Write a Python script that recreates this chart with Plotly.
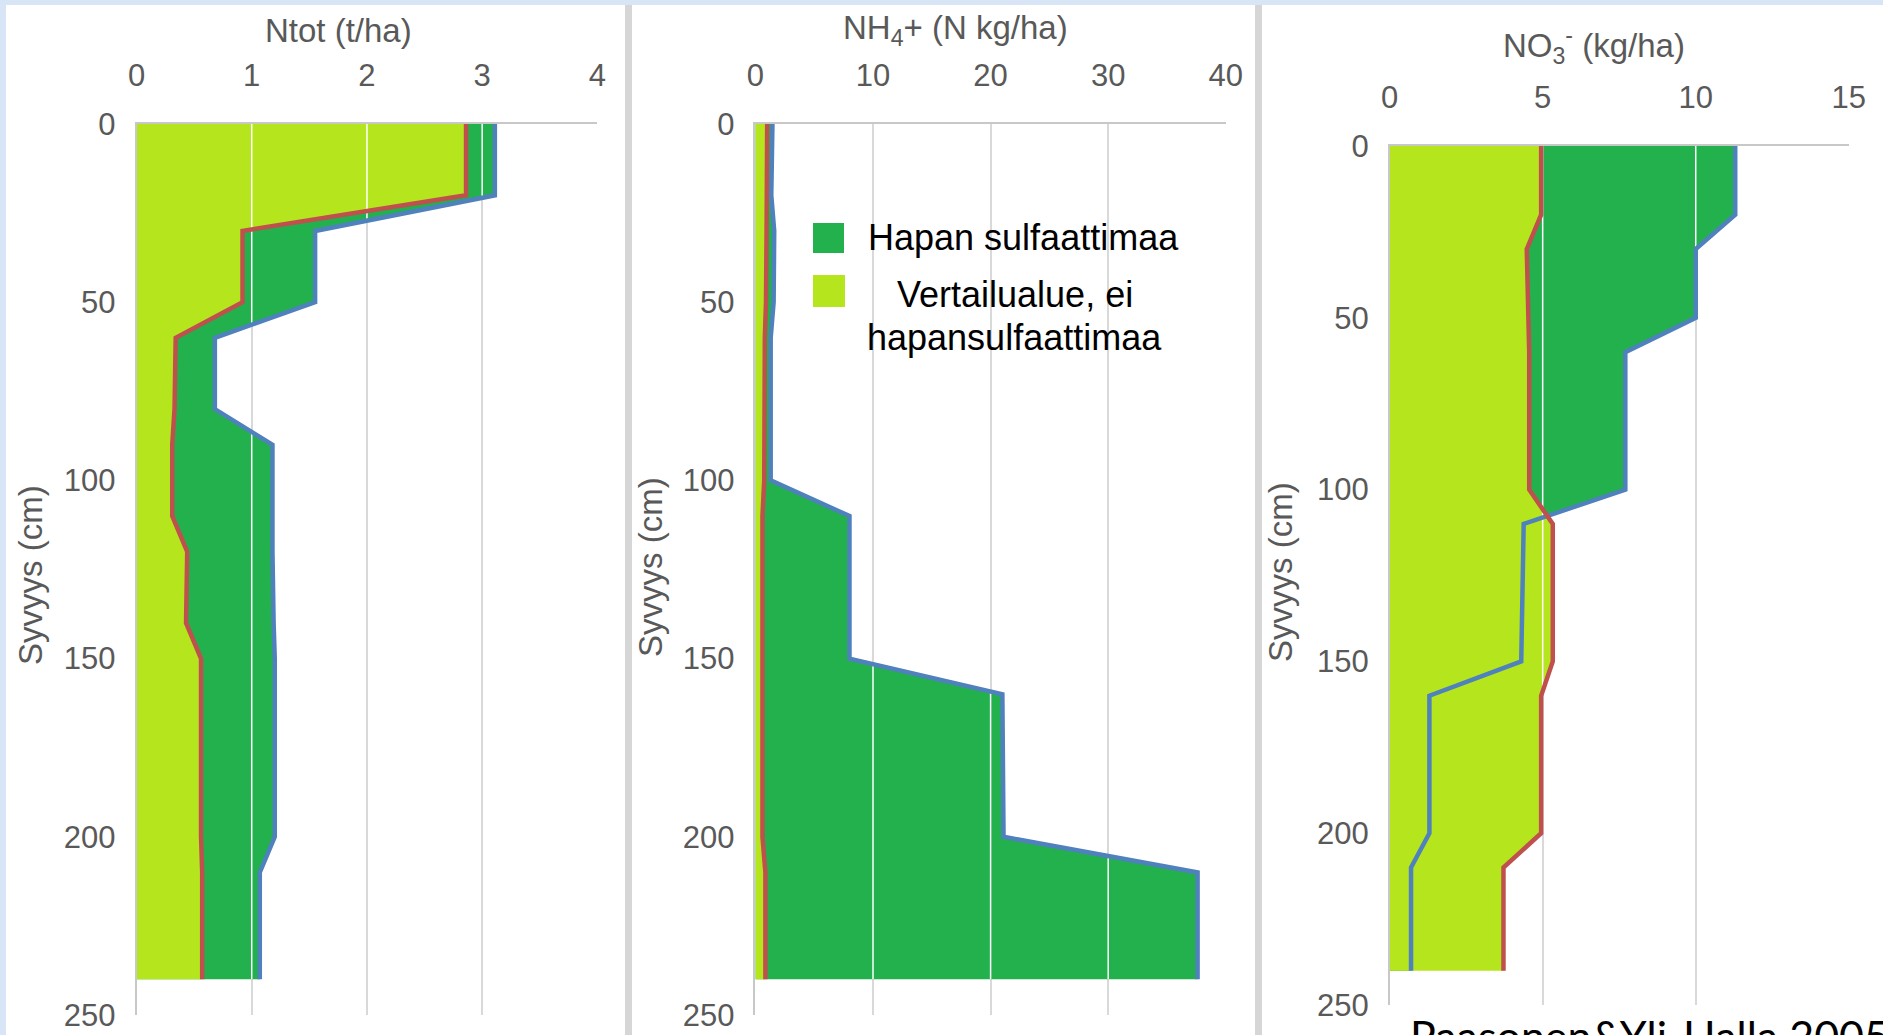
import numpy as np
import plotly.graph_objects as go

W, H = 1883, 1035

# ---- data -------------------------------------------------------------
depth_ntot = [0, 20, 30, 50, 60, 80, 90, 110, 120, 140, 150, 200, 210, 240]
ntot_hapan = [3.11, 3.11, 1.55, 1.55, 0.68, 0.68, 1.18, 1.18, 1.18, 1.19, 1.20, 1.20, 1.07, 1.07]
ntot_vert = [2.86, 2.86, 0.92, 0.92, 0.34, 0.33, 0.31, 0.31, 0.44, 0.43, 0.56, 0.56, 0.57, 0.57]

depth_min = [0, 20, 30, 50, 60, 100, 110, 150, 160, 200, 210, 240]
nh4_hapan = [1.45, 1.35, 1.60, 1.55, 1.30, 1.30, 8.0, 8.0, 21.0, 21.1, 37.6, 37.6]
nh4_vert = [1.00, 1.00, 0.95, 0.90, 0.80, 0.75, 0.60, 0.60, 0.60, 0.60, 0.85, 0.85]
no3_hapan = [11.29, 11.29, 10.0, 10.0, 7.70, 7.70, 4.38, 4.30, 1.30, 1.30, 0.70, 0.70]
no3_vert = [4.95, 4.95, 4.48, 4.52, 4.56, 4.56, 5.33, 5.33, 4.95, 4.95, 3.72, 3.72]

ntot_ticks = [0, 1, 2, 3, 4]
nh4_ticks = [0, 10, 20, 30, 40]
no3_ticks = [0, 5, 10, 15]
depth_ticks = [0, 50, 100, 150, 200, 250]

title_ntot = "Ntot (t/ha)"
title_nh4 = "NH<sub>4</sub>+ (N kg/ha)"
title_no3 = "NO<sub>3</sub><sup>-</sup> (kg/ha)"
depth_title = "Syvyys (cm)"
name_hapan = "Hapan sulfaattimaa"
name_vert = ["Vertailualue, ei", "hapansulfaattimaa"]
source_text = "Paasonen&Yli-Halla 2005"

# ---- styling ----------------------------------------------------------
DARK_GREEN = "#22b14c"
LIGHT_GREEN = "#b5e61d"
RED = "#c0504d"
BLUE = "#4f81bd"
GRID = "#d9d9d9"
AXLINE = "#c8c8c8"
TXT = "#595959"
FONT = "Liberation Sans"


def px_x(p):
    return p / W


def px_y(p):
    return 1 - p / H


# (suffix, depths, hapan, vert, ticks, x-range, x pixel span, y pixel span, title, title pos, ytitle pos)
panels = [
    ("", depth_ntot, ntot_hapan, ntot_vert, ntot_ticks, [0, 4],
     (136.5, 597.4), (124, 1015), title_ntot, (338, 30), (30, 575)),
    ("2", depth_min, nh4_hapan, nh4_vert, nh4_ticks, [0, 40],
     (755.4, 1225.8), (124, 1015), title_nh4, (955, 30), (650, 567)),
    ("3", depth_min, no3_hapan, no3_vert, no3_ticks, [0, 15],
     (1389.6, 1848.8), (146, 1005), title_no3, (1594, 46), (1280, 572)),
]

fig = go.Figure()
layout = dict(
    width=W, height=H, autosize=False,
    margin=dict(l=0, r=0, t=0, b=0, pad=0),
    paper_bgcolor="#d8e5f6", plot_bgcolor="white",
    showlegend=False,
    font=dict(family=FONT, color=TXT),
)
annotations = []
shapes = []

# panel backgrounds and separators
for x0, x1 in [(6, 625), (632, 1255), (1262, 1883)]:
    shapes.append(dict(type="rect", xref="paper", yref="paper", layer="below",
                       x0=px_x(x0), x1=px_x(x1), y0=0, y1=px_y(5),
                       fillcolor="white", line=dict(width=0)))
for x0, x1 in [(625, 632), (1255, 1262)]:
    shapes.append(dict(type="rect", xref="paper", yref="paper", layer="below",
                       x0=px_x(x0), x1=px_x(x1), y0=0, y1=px_y(5),
                       fillcolor="#d6d6d6", line=dict(width=0)))

for suf, depth, hapan, vert, ticks, xr, xs, ys, ttl, tpos, ypos in panels:
    xa, ya = "x" + suf, "y" + suf

    # stacked look: acid-sulphate area below, reference area above it
    fig.add_trace(go.Scatter(x=hapan, y=depth, xaxis=xa, yaxis=ya, mode="lines",
                             fill="tozerox", fillcolor=DARK_GREEN,
                             line=dict(width=0, color=DARK_GREEN), hoverinfo="skip"))
    fig.add_trace(go.Scatter(x=vert, y=depth, xaxis=xa, yaxis=ya, mode="lines",
                             fill="tozerox", fillcolor=LIGHT_GREEN,
                             line=dict(width=0, color=LIGHT_GREEN), hoverinfo="skip"))

    # vertical gridlines show through the filled areas as white lines
    d = np.arange(depth[0], depth[-1] + 0.05, 0.1)
    outer = np.maximum(np.interp(d, depth, hapan), np.interp(d, depth, vert))
    for g in ticks[1:]:
        yy = np.where(outer > g, d, np.nan)
        if np.all(np.isnan(yy)):
            continue
        fig.add_trace(go.Scatter(x=np.full(d.shape, float(g)), y=yy, xaxis=xa, yaxis=ya,
                                 mode="lines", connectgaps=False,
                                 line=dict(width=1.5, color="white"), hoverinfo="skip"))

    fig.add_trace(go.Scatter(x=hapan, y=depth, xaxis=xa, yaxis=ya, mode="lines",
                             line=dict(width=4.5, color=BLUE), hoverinfo="skip"))
    fig.add_trace(go.Scatter(x=vert, y=depth, xaxis=xa, yaxis=ya, mode="lines",
                             line=dict(width=4.5, color=RED), hoverinfo="skip"))

    tickfont = dict(size=31, color=TXT, family=FONT)
    layout["xaxis" + suf] = dict(
        domain=[px_x(xs[0]), px_x(xs[1])], anchor=ya, side="top", automargin=False,
        range=xr, tickvals=ticks, showgrid=True, gridcolor=GRID, gridwidth=1.5,
        zeroline=False, showline=True, linecolor=AXLINE, linewidth=1.5,
        ticks="", tickfont=tickfont, ticklabelstandoff=24, fixedrange=True,
    )
    layout["yaxis" + suf] = dict(
        domain=[px_y(ys[1]), px_y(ys[0])], anchor=xa, automargin=False,
        range=[250, 0], tickvals=depth_ticks, showgrid=False, zeroline=False,
        showline=True, linecolor=AXLINE, linewidth=1.5,
        ticks="", tickfont=tickfont, ticklabelstandoff=13, fixedrange=True,
    )

    annotations.append(dict(text=ttl, xref="paper", yref="paper",
                            x=px_x(tpos[0]), y=px_y(tpos[1]),
                            xanchor="center", yanchor="middle", showarrow=False,
                            font=dict(size=33, color=TXT, family=FONT)))
    annotations.append(dict(text=depth_title, xref="paper", yref="paper",
                            x=px_x(ypos[0]), y=px_y(ypos[1]), textangle=-90,
                            xanchor="center", yanchor="middle", showarrow=False,
                            font=dict(size=33, color=TXT, family=FONT)))

# legend drawn inside the NH4+ panel
shapes.append(dict(type="rect", xref="paper", yref="paper", layer="above",
                   x0=px_x(813), x1=px_x(844), y0=px_y(253), y1=px_y(223),
                   fillcolor=DARK_GREEN, line=dict(width=0)))
shapes.append(dict(type="rect", xref="paper", yref="paper", layer="above",
                   x0=px_x(813), x1=px_x(845), y0=px_y(307), y1=px_y(275),
                   fillcolor=LIGHT_GREEN, line=dict(width=0)))
legend_font = dict(size=36, color="black", family=FONT)
annotations.append(dict(text=name_hapan, xref="paper", yref="paper",
                        x=px_x(866), y=px_y(238), xanchor="left", yanchor="middle",
                        showarrow=False, font=legend_font))
annotations.append(dict(text=name_vert[0], xref="paper", yref="paper",
                        x=px_x(1015), y=px_y(295), xanchor="center", yanchor="middle",
                        showarrow=False, font=legend_font))
annotations.append(dict(text=name_vert[1], xref="paper", yref="paper",
                        x=px_x(1014), y=px_y(337), xanchor="center", yanchor="middle",
                        showarrow=False, font=legend_font))

# source reference at the bottom right
annotations.append(dict(text=source_text, xref="paper", yref="paper",
                        x=px_x(1408), y=px_y(1008), xanchor="left", yanchor="top",
                        showarrow=False, font=dict(size=43, color="black", family="Lato")))

layout["annotations"] = annotations
layout["shapes"] = shapes
fig.update_layout(**layout)

fig.write_html("out.html", config={"displayModeBar": False})
